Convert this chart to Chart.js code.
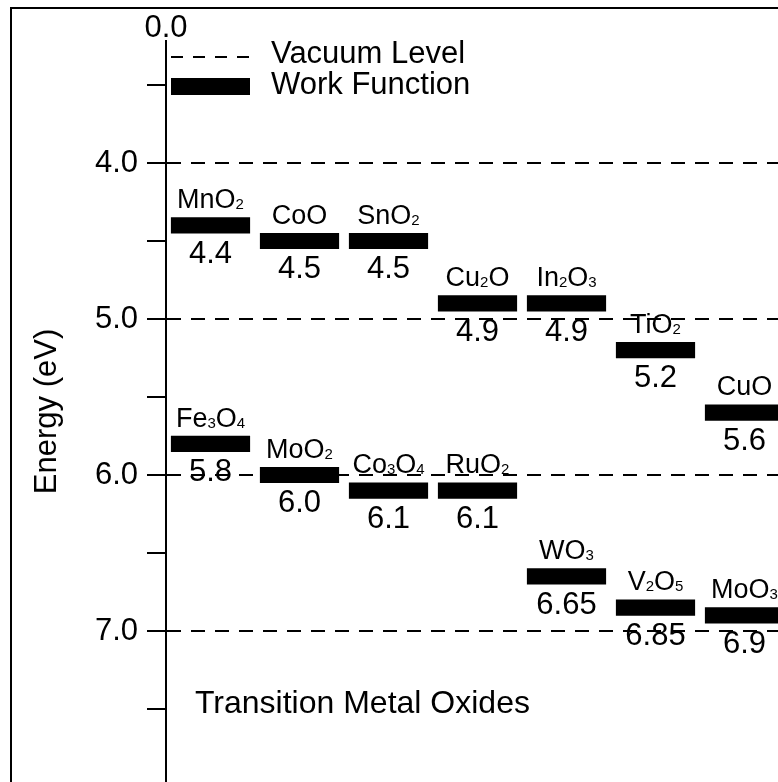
<!DOCTYPE html>
<html>
<head>
<meta charset="utf-8">
<title>Work functions of transition metal oxides</title>
<script src="https://cdn.jsdelivr.net/npm/chart.js@4.4.1/dist/chart.umd.min.js"></script>
<style>
  html, body { margin: 0; padding: 0; background: #fff; overflow: hidden; }
  #wrap { position: relative; width: 800px; height: 782px; }
</style>
</head>
<body>
<div id="wrap"><canvas id="wf" width="800" height="782"></canvas></div>
<script>
// upper row of oxides, work function in eV
const upperNames = ['MnO2', 'CoO', 'SnO2', 'Cu2O', 'In2O3', 'TiO2', 'CuO'];
const upperValues = [4.4, 4.5, 4.5, 4.9, 4.9, 5.2, 5.6];
// lower row of oxides
const lowerNames = ['Fe3O4', 'MoO2', 'Co3O4', 'RuO2', 'WO3', 'V2O5', 'MoO3'];
const lowerValues = [5.8, 6.0, 6.1, 6.1, 6.65, 6.85, 6.9];

const tickValues = [3.5, 4.0, 4.5, 5.0, 5.5, 6.0, 6.5, 7.0, 7.5];
const vacuumLabel = '0.0';
const legendLabels = ['Vacuum Level', 'Work Function'];
const groupTitle = 'Transition Metal Oxides';
const axisTitle = 'Energy (eV)';

const FONT = '"Liberation Sans", Arial, sans-serif';
const HALF = 0.052; // half thickness of a level bar (eV)

function fmt(v) {
    return Math.abs(Math.round(v * 10) - v * 10) < 1e-9 ? v.toFixed(1) : v.toFixed(2);
}

// chemical formula with the digits set as small subscripts
function drawFormula(ctx, text, cx, baseline, size) {
    const parts = text.match(/\d+|\D+/g);
    const sub = Math.round(size * 0.56);
    const fontOf = p => (/\d/.test(p) ? sub : size) + 'px ' + FONT;
    let w = 0;
    parts.forEach(p => { ctx.font = fontOf(p); w += ctx.measureText(p).width; });
    let x = cx - w / 2;
    ctx.textAlign = 'left';
    ctx.textBaseline = 'alphabetic';
    parts.forEach(p => {
        ctx.font = fontOf(p);
        ctx.fillText(p, x, baseline + (/\d/.test(p) ? 1 : 0));
        x += ctx.measureText(p).width;
    });
}

// names above each level, values below
const levelLabels = {
    id: 'levelLabels',
    afterDatasetsDraw(chart) {
        const ctx = chart.ctx, y = chart.scales.y;
        ctx.save();
        ctx.fillStyle = '#000';
        chart.data.datasets.forEach((ds, di) => {
            chart.getDatasetMeta(di).data.forEach((bar, i) => {
                const v = ds.levels[i];
                const top = y.getPixelForValue(v - HALF);
                const bottom = y.getPixelForValue(v + HALF);
                drawFormula(ctx, ds.names[i], bar.x, top - 9, 27);
                ctx.font = '31px ' + FONT;
                ctx.textAlign = 'center';
                ctx.fillText(fmt(v), bar.x, bottom + 29);
            });
        });
        ctx.restore();
    }
};

// frame, vacuum reference, legend and group title
const decor = {
    id: 'decor',
    afterDraw(chart) {
        const { ctx, chartArea: a } = chart;
        ctx.save();
        ctx.strokeStyle = '#000';
        ctx.fillStyle = '#000';
        ctx.lineWidth = 2;
        ctx.beginPath();
        ctx.moveTo(11, chart.height + 10);
        ctx.lineTo(11, 8);
        ctx.lineTo(chart.width + 10, 8);
        ctx.stroke();

        ctx.font = '31px ' + FONT;
        ctx.textBaseline = 'alphabetic';
        ctx.textAlign = 'center';
        ctx.fillText(vacuumLabel, a.left, a.top - 4);

        const x0 = a.left + 5, x1 = a.left + 84;
        ctx.setLineDash([12, 10]);
        ctx.beginPath();
        ctx.moveTo(x0, 57);
        ctx.lineTo(x1, 57);
        ctx.stroke();
        ctx.setLineDash([]);
        ctx.fillRect(x0, 78, x1 - x0, 17);
        ctx.textAlign = 'left';
        ctx.fillText(legendLabels[0], a.left + 105, 63);
        ctx.fillText(legendLabels[1], a.left + 105, 94);

        ctx.font = '32px ' + FONT;
        ctx.fillText(groupTitle, a.left + 29, 713);
        ctx.restore();
    }
};

const rows = [
    { names: upperNames, levels: upperValues },
    { names: lowerNames, levels: lowerValues }
].map(r => Object.assign(r, {
    data: r.levels.map(v => [v - HALF, v + HALF]),
    backgroundColor: '#000',
    borderWidth: 0,
    grouped: false,
    barPercentage: 0.89,
    categoryPercentage: 1
}));

new Chart(document.getElementById('wf'), {
    type: 'bar',
    data: { labels: upperNames, datasets: rows },
    options: {
        responsive: false,
        animation: false,
        events: [],
        layout: { padding: { top: 41, right: 11, bottom: 0, left: 0 } },
        plugins: { legend: { display: false }, tooltip: { enabled: false } },
        scales: {
            x: { display: false },
            y: {
                reverse: true,
                min: 3.218,
                max: 7.968,
                afterBuildTicks: s => { s.ticks = tickValues.map(v => ({ value: v })); },
                afterFit: s => { s.width = 166; s.paddingTop = 0; s.paddingBottom = 0; },
                ticks: {
                    color: '#000',
                    font: { family: FONT, size: 31 },
                    padding: 9,
                    callback: v => Number.isInteger(v) ? v.toFixed(1) : ''
                },
                grid: {
                    color: c => (c.tick && Number.isInteger(c.tick.value)) ? '#000' : 'rgba(0,0,0,0)',
                    lineWidth: 2,
                    tickColor: '#000',
                    tickWidth: 2,
                    tickLength: 19
                },
                border: { color: '#000', width: 2, dash: [14, 10] },
                title: {
                    display: true,
                    text: axisTitle,
                    color: '#000',
                    font: { family: FONT, size: 31 },
                    padding: { top: 29, bottom: 0 }
                }
            }
        }
    },
    plugins: [levelLabels, decor]
});
</script>
</body>
</html>
